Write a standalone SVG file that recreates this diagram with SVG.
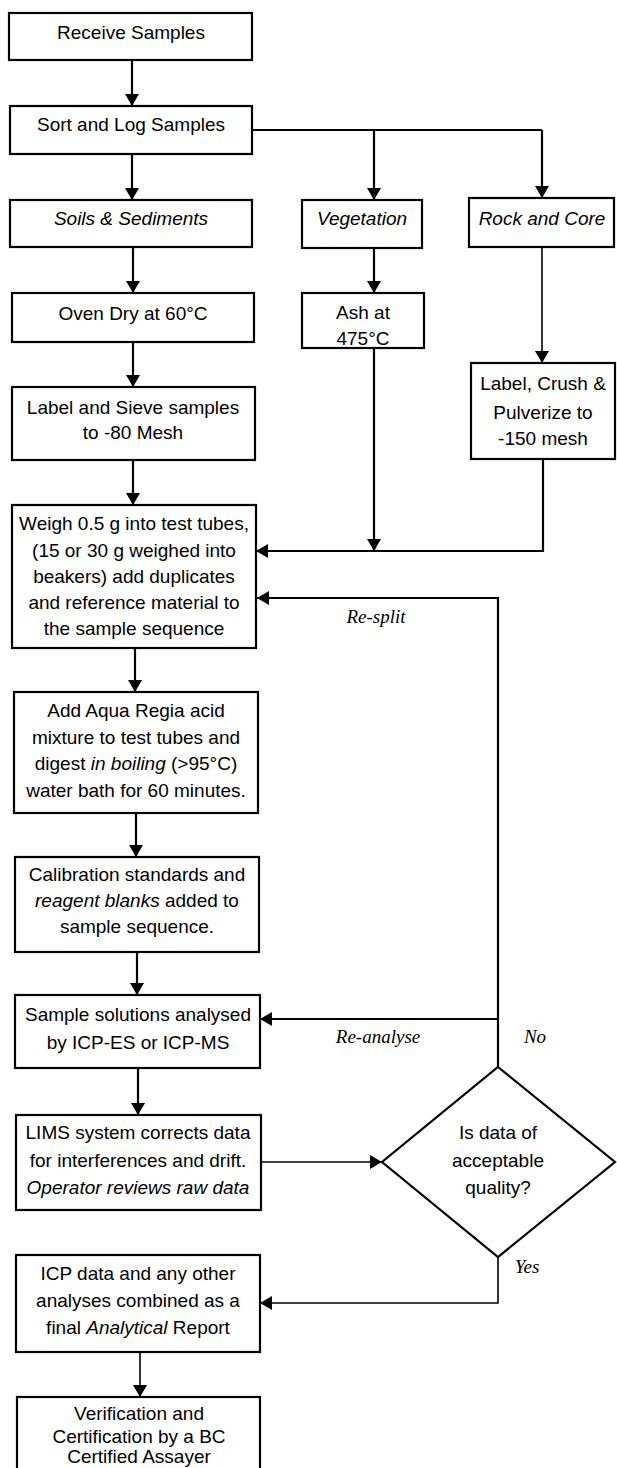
<svg xmlns="http://www.w3.org/2000/svg" width="617" height="1468" viewBox="0 0 617 1468">
<style>
.box{fill:#fff;stroke:#000;stroke-width:2.2}
.t{font-family:"Liberation Sans",Arial,sans-serif;font-size:19px;text-anchor:middle;fill:#000}
.i{font-style:italic}
.lab{font-family:"Liberation Serif","Times New Roman",serif;font-size:19px;font-style:italic;fill:#000;text-anchor:middle}
.c{fill:none;stroke:#000;stroke-width:2.2}
.thin{stroke-width:1.6}
</style>
<defs>
<marker id="ah" viewBox="0 0 12 14" refX="12" refY="7" markerWidth="12" markerHeight="14" orient="auto" markerUnits="userSpaceOnUse"><path d="M0,0 L12,7 L0,14 z" fill="#000"/></marker>
</defs>
<rect width="617" height="1468" fill="#fff"/>
<g id="connectors">
<path class="c" d="M132,60 V106" marker-end="url(#ah)"/>
<path class="c" d="M132,154 V200" marker-end="url(#ah)"/>
<path class="c" d="M252,130 H542"/>
<path class="c" d="M374,130 V200" marker-end="url(#ah)"/>
<path class="c" d="M542,130 V198" marker-end="url(#ah)"/>
<path class="c" d="M133,247 V293" marker-end="url(#ah)"/>
<path class="c" d="M133,342 V387" marker-end="url(#ah)"/>
<path class="c" d="M133,460 V505" marker-end="url(#ah)"/>
<path class="c" d="M374,248 V293" marker-end="url(#ah)"/>
<path class="c" d="M374,348 V551" marker-end="url(#ah)"/>
<path class="c thin" d="M542,247 V363" marker-end="url(#ah)"/>
<path class="c" d="M543,459 V551 H256" marker-end="url(#ah)"/>
<path class="c" d="M135,648 V692" marker-end="url(#ah)"/>
<path class="c" d="M136,813 V857" marker-end="url(#ah)"/>
<path class="c" d="M137,952 V995" marker-end="url(#ah)"/>
<path class="c" d="M138,1068 V1115" marker-end="url(#ah)"/>
<path class="c thin" d="M261,1162 H382" marker-end="url(#ah)"/>
<path class="c" d="M498,1067 V598 H257" marker-end="url(#ah)"/>
<path class="c" d="M498,1019 H260" marker-end="url(#ah)"/>
<path class="c thin" d="M498,1257 V1303 H260" marker-end="url(#ah)"/>
<path class="c thin" d="M140,1352 V1397" marker-end="url(#ah)"/>
<text class="lab" x="376" y="623">Re-split</text>
<text class="lab" x="378" y="1043">Re-analyse</text>
<text class="lab" x="535" y="1043">No</text>
<text class="lab" x="527" y="1273">Yes</text>
</g>
<g id="receive"><rect class="box" x="9" y="13" width="243" height="47"/><text class="t" x="131" y="39">Receive Samples</text></g>
<g id="sort"><rect class="box" x="10" y="106" width="242" height="48"/><text class="t" x="131" y="131">Sort and Log Samples</text></g>
<g id="soils"><rect class="box" x="10" y="200" width="242" height="47"/><text class="t i" x="131" y="225">Soils &amp; Sediments</text></g>
<g id="vegetation"><rect class="box" x="302" y="200" width="120" height="48"/><text class="t i" x="362" y="225">Vegetation</text></g>
<g id="rock"><rect class="box" x="469" y="198" width="145" height="49"/><text class="t i" x="542" y="225">Rock and Core</text></g>
<g id="ash"><rect class="box" x="302" y="293" width="122" height="55"/><text class="t" x="363" y="319">Ash at</text><text class="t" x="363" y="345">475°C</text></g>
<g id="oven"><rect class="box" x="12" y="293" width="242" height="49"/><text class="t" x="133" y="320">Oven Dry at 60°C</text></g>
<g id="sieve"><rect class="box" x="12" y="387" width="243" height="73"/><text class="t" x="133" y="414">Label and Sieve samples</text><text class="t" x="133" y="439">to -80 Mesh</text></g>
<g id="crush"><rect class="box" x="471" y="363" width="144" height="96"/><text class="t" x="543" y="390">Label, Crush &amp;</text><text class="t" x="543" y="419">Pulverize to</text><text class="t" x="543" y="445">-150 mesh</text></g>
<g id="weigh"><rect class="box" x="12" y="505" width="244" height="143"/>
<text class="t" x="134" y="530">Weigh 0.5 g into test tubes,</text>
<text class="t" x="134" y="557">(15 or 30 g weighed into</text>
<text class="t" x="134" y="583">beakers) add duplicates</text>
<text class="t" x="134" y="609">and reference material to</text>
<text class="t" x="134" y="635">the sample sequence</text></g>
<g id="aqua"><rect class="box" x="14" y="692" width="244" height="121"/>
<text class="t" x="136" y="717">Add Aqua Regia acid</text>
<text class="t" x="136" y="744">mixture to test tubes and</text>
<text class="t" x="136" y="770">digest <tspan class="i">in boiling</tspan> (&gt;95°C)</text>
<text class="t" x="136" y="797">water bath for 60 minutes.</text></g>
<g id="calibration"><rect class="box" x="15" y="857" width="244" height="95"/>
<text class="t" x="137" y="881">Calibration standards and</text>
<text class="t" x="137" y="907"><tspan class="i">reagent blanks</tspan> added to</text>
<text class="t" x="137" y="933">sample sequence.</text></g>
<g id="analyse"><rect class="box" x="15" y="995" width="245" height="73"/>
<text class="t" x="138" y="1021">Sample solutions analysed</text>
<text class="t" x="138" y="1049">by ICP-ES or ICP-MS</text></g>
<g id="lims"><rect class="box" x="16" y="1115" width="245" height="95"/>
<text class="t" x="138" y="1139">LIMS system corrects data</text>
<text class="t" x="138" y="1167">for interferences and drift.</text>
<text class="t i" x="138" y="1194">Operator reviews raw data</text></g>
<g id="decision"><path class="box" d="M498,1067 L615,1162 L498,1257 L382,1162 Z"/>
<text class="t" x="498" y="1139">Is data of</text>
<text class="t" x="498" y="1167">acceptable</text>
<text class="t" x="498" y="1194">quality?</text></g>
<g id="report"><rect class="box" x="16" y="1255" width="244" height="97"/>
<text class="t" x="138" y="1280">ICP data and any other</text>
<text class="t" x="138" y="1307">analyses combined as a</text>
<text class="t" x="138" y="1334">final <tspan class="i">Analytical</tspan> Report</text></g>
<g id="verification"><rect class="box" x="17" y="1397" width="243" height="90"/>
<text class="t" x="139" y="1420">Verification and</text>
<text class="t" x="139" y="1443">Certification by a BC</text>
<text class="t" x="139" y="1463">Certified Assayer</text></g>
</svg>
